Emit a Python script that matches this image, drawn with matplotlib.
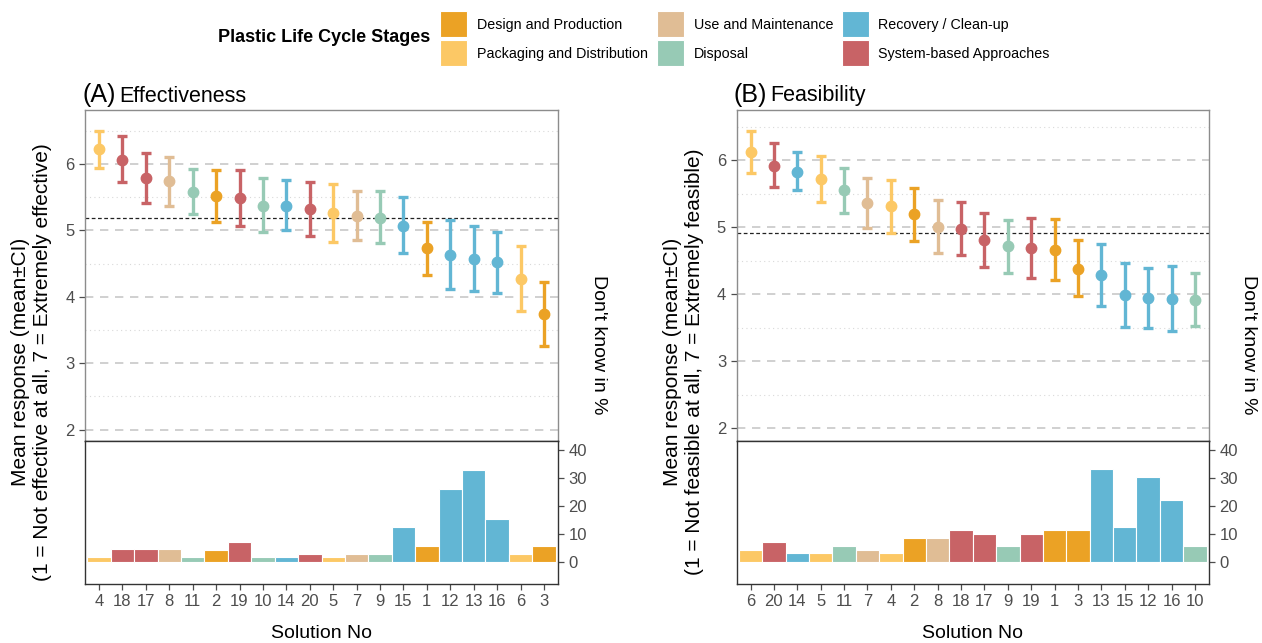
import matplotlib
matplotlib.use("Agg")
import matplotlib.pyplot as plt
from matplotlib.patches import Rectangle

plt.rcParams['font.family'] = ['Liberation Sans', 'DejaVu Sans']

# ---------------- data ----------------
stage_names = ["Design and Production", "Packaging and Distribution",
               "Use and Maintenance", "Disposal",
               "Recovery / Clean-up", "System-based Approaches"]
stage_colors = ["#EBA225", "#FCC865", "#E0BD95", "#97CAB5", "#62B6D4", "#C86366"]

# Stage of each solution number (1..20)
solution_stage = {1: 0, 2: 0, 3: 0, 4: 1, 5: 1, 6: 1, 7: 2, 8: 2, 9: 3, 10: 3, 11: 3,
                  12: 4, 13: 4, 14: 4, 15: 4, 16: 4, 17: 5, 18: 5, 19: 5, 20: 5}

# (A) Effectiveness
eff_solutions = [4, 18, 17, 8, 11, 2, 19, 10, 14, 20, 5, 7, 9, 15, 1, 12, 13, 16, 6, 3]
eff_mean = [6.22, 6.06, 5.78, 5.74, 5.58, 5.51, 5.48, 5.37, 5.37, 5.32,
            5.26, 5.22, 5.19, 5.07, 4.73, 4.63, 4.57, 4.52, 4.27, 3.74]
eff_upper = [6.50, 6.42, 6.16, 6.11, 5.92, 5.90, 5.90, 5.78, 5.75, 5.72,
             5.69, 5.59, 5.59, 5.50, 5.13, 5.16, 5.07, 4.98, 4.77, 4.22]
eff_lower = [5.94, 5.72, 5.41, 5.37, 5.24, 5.13, 5.07, 4.97, 5.00, 4.92,
             4.83, 4.86, 4.81, 4.66, 4.33, 4.11, 4.08, 4.06, 3.78, 3.26]
eff_dontknow = [1.9, 4.7, 4.7, 4.7, 1.9, 4.6, 7.3, 1.9, 1.9, 3.1,
                1.9, 3.1, 3.1, 12.7, 5.9, 26.3, 33.1, 15.5, 3.1, 5.9]
eff_overall_mean = 5.19

# (B) Feasibility
fea_solutions = [6, 20, 14, 5, 11, 7, 4, 2, 8, 18, 17, 9, 19, 1, 3, 13, 15, 12, 16, 10]
fea_mean = [6.12, 5.92, 5.83, 5.72, 5.56, 5.36, 5.31, 5.20, 5.01, 4.98,
            4.81, 4.72, 4.69, 4.66, 4.38, 4.29, 3.99, 3.95, 3.93, 3.92]
fea_upper = [6.43, 6.26, 6.12, 6.07, 5.89, 5.74, 5.71, 5.59, 5.41, 5.37,
             5.22, 5.11, 5.14, 5.12, 4.81, 4.75, 4.47, 4.39, 4.42, 4.31]
fea_lower = [5.81, 5.60, 5.55, 5.38, 5.22, 4.99, 4.92, 4.80, 4.62, 4.58,
             4.40, 4.32, 4.24, 4.22, 3.97, 3.82, 3.51, 3.50, 3.45, 3.53]
fea_dontknow = [4.5, 7.3, 3.2, 3.2, 5.8, 4.5, 3.2, 8.6, 8.6, 11.4,
                10.0, 5.8, 10.0, 11.4, 11.4, 33.2, 12.6, 30.5, 22.3, 5.8]
fea_overall_mean = 4.92

panels = [
    dict(tag="(A)", title="Effectiveness", sols=eff_solutions, mean=eff_mean,
         up=eff_upper, lo=eff_lower, dk=eff_dontknow, ref=eff_overall_mean,
         ylim=(1.83, 6.81),
         ylabel="Mean response (mean\u00b1CI)\n(1 = Not effective at all, 7 = Extremely effective)"),
    dict(tag="(B)", title="Feasibility", sols=fea_solutions, mean=fea_mean,
         up=fea_upper, lo=fea_lower, dk=fea_dontknow, ref=fea_overall_mean,
         ylim=(1.81, 6.75),
         ylabel="Mean response (mean\u00b1CI)\n(1 = Not feasible at all, 7 = Extremely feasible)"),
]

W, H = 1262, 643
fig = plt.figure(figsize=(W / 100, H / 100), dpi=100)

def fx(px):
    return px / W

def fy(py):
    return 1 - py / H

tick_color = "#4D4D4D"
lefts = [85, 736.5]
rights = [558, 1209]
top_y, mid_y, bot_y = 110, 441, 584

for i, p in enumerate(panels):
    L, R = lefts[i], rights[i]
    ax = fig.add_axes([fx(L), fy(mid_y), fx(R - L), (mid_y - top_y) / H])
    axb = fig.add_axes([fx(L), fy(bot_y), fx(R - L), (bot_y - mid_y) / H], sharex=ax)

    x = list(range(len(p["sols"])))
    cols = [stage_colors[solution_stage[s]] for s in p["sols"]]

    # grid
    for yv in [2, 3, 4, 5, 6]:
        ax.axhline(yv, color="#C8C8C8", lw=1.2, ls=(0, (5, 4)), zorder=0)
    for yv in [2.5, 3.5, 4.5, 5.5, 6.5]:
        ax.axhline(yv, color="#D9D9D9", lw=0.8, ls=(0, (1, 3)), zorder=0)
    ax.axhline(p["ref"], color="#222222", lw=0.9, ls=(0, (3, 2)), zorder=1)

    for xi, m, u, l, c in zip(x, p["mean"], p["up"], p["lo"], cols):
        ax.errorbar([xi], [m], yerr=[[m - l], [u - m]], fmt="o", color=c,
                    ms=7.5, elinewidth=2.4, capsize=3.8, capthick=2.4, zorder=3)

    ax.set_xlim(-0.6, len(x) - 0.4)
    ax.set_ylim(*p["ylim"])
    ax.set_yticks([2, 3, 4, 5, 6])
    ax.tick_params(axis="y", labelsize=12, colors=tick_color, length=4, width=0.9)
    ax.tick_params(axis="x", bottom=False, labelbottom=False)
    for sp in ["top", "left", "right"]:
        ax.spines[sp].set_color("#8C8C8C")
        ax.spines[sp].set_linewidth(1.0)
    ax.spines["bottom"].set_color("#333333")
    ax.spines["bottom"].set_linewidth(1.0)

    # don't know bars
    axb.bar(x, p["dk"], width=1.0, color=cols, edgecolor="white", linewidth=0.8, zorder=2)
    axb.set_ylim(-7.7, 43.3)
    axb.set_yticks([0, 10, 20, 30, 40])
    axb.yaxis.tick_right()
    axb.tick_params(axis="y", labelsize=12, colors=tick_color, length=4, width=0.9,
                    left=False, labelleft=False, right=True, labelright=True)
    axb.set_xticks(x)
    axb.set_xticklabels([str(s) for s in p["sols"]])
    axb.tick_params(axis="x", labelsize=12, colors=tick_color, length=4, width=0.9,
                    pad=3)
    for sp in axb.spines.values():
        sp.set_color("#333333")
        sp.set_linewidth(1.0)
    axb.set_xlabel("Solution No", fontsize=14, labelpad=12)

    # titles
    fig.text(fx(L - 3), fy(95), p["tag"], fontsize=18, ha="left", va="center")
    fig.text(fx(L + 34), fy(96), p["title"], fontsize=15.5, ha="left", va="center")

    # left label
    fig.text(fx(L - 53), fy(362), p["ylabel"], rotation=90, fontsize=15,
             ha="center", va="center", linespacing=1.2)
    # right label
    fig.text(fx(R + 40), fy(345), "Don't know in %", rotation=270, fontsize=14,
             ha="center", va="center")

# legend
fig.text(fx(218), fy(38), "Plastic Life Cycle Stages", fontsize=13, fontweight="bold",
         ha="left", va="center")
col_patch_x = [440, 657, 842]
col_text_x = [477, 694, 878]
row_y = [(10.5, 36.5), (39.5, 65.5)]
for k, (name, c) in enumerate(zip(stage_names, stage_colors)):
    col, row = k // 2, k % 2
    y0, y1 = row_y[row]
    px0 = col_patch_x[col]
    fig.add_artist(Rectangle((fx(px0), fy(y1)), fx(27), (y1 - y0) / H,
                             transform=fig.transFigure, facecolor=c,
                             edgecolor="white", linewidth=0.8))
    fig.text(fx(col_text_x[col]), fy((y0 + y1) / 2 + 1.5), name, fontsize=10.3,
             ha="left", va="center")

fig.savefig("out.png", dpi=100)
